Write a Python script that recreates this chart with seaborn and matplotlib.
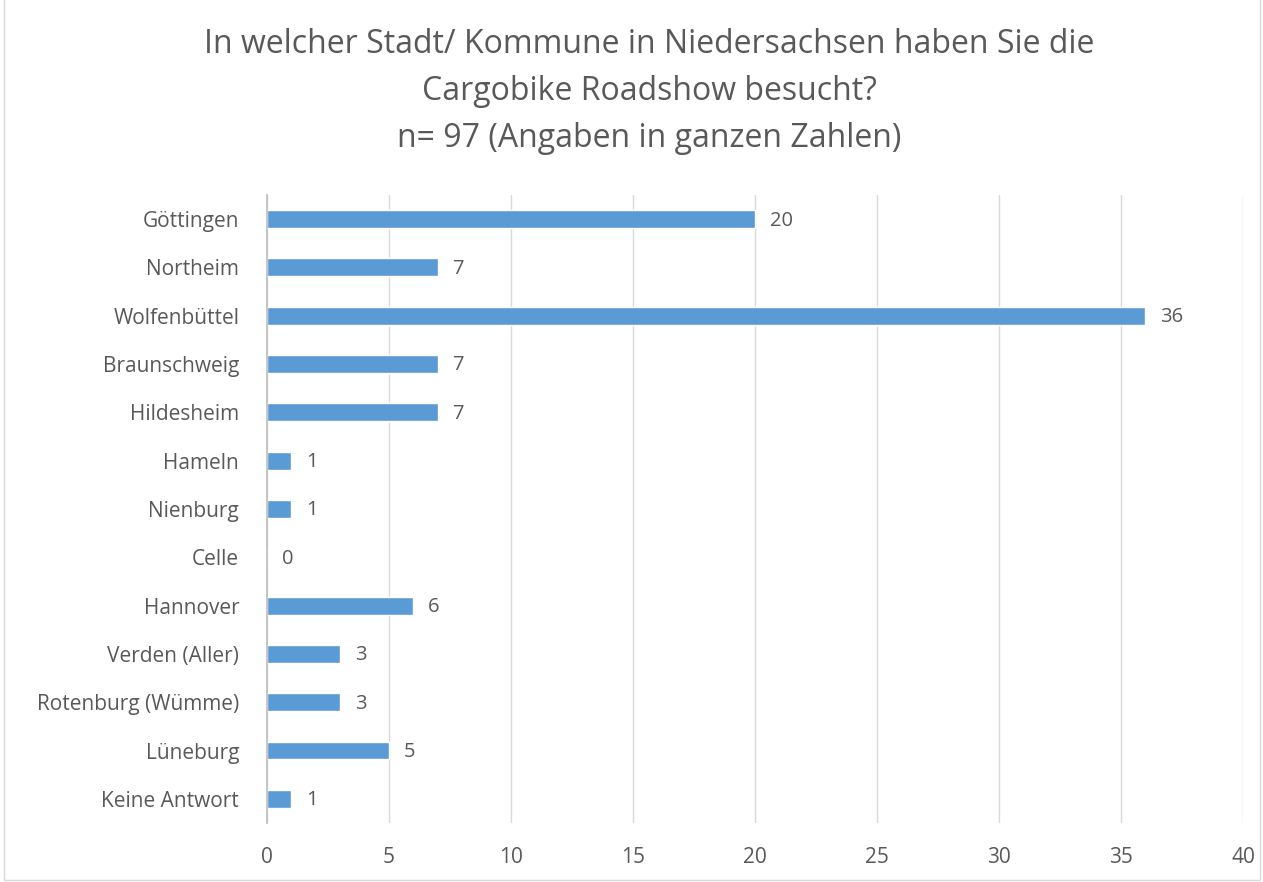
import matplotlib.pyplot as plt
import matplotlib.patches as mpatches
import seaborn as sns
import pandas as pd

staedte = [
    "Göttingen", "Northeim", "Wolfenbüttel", "Braunschweig", "Hildesheim",
    "Hameln", "Nienburg", "Celle", "Hannover", "Verden (Aller)",
    "Rotenburg (Wümme)", "Lüneburg", "Keine Antwort",
]
anzahl = [20, 7, 36, 7, 7, 1, 1, 0, 6, 3, 3, 5, 1]
x_ticks = [0, 5, 10, 15, 20, 25, 30, 35, 40]

titel = ("In welcher Stadt/ Kommune in Niedersachsen haben Sie die\n"
         "Cargobike Roadshow besucht?\n"
         "n= 97 (Angaben in ganzen Zahlen)")

df = pd.DataFrame({"stadt": staedte, "anzahl": anzahl})

sns.set_theme(style="white")
plt.rcParams['font.family'] = ['Open Sans', 'DejaVu Sans']
grau = "#595959"

fig = plt.figure(figsize=(12.63, 8.82), dpi=100)
ax = fig.add_axes([0.2114, 0.0669, 0.7728, 0.7121])

sns.barplot(data=df, x="anzahl", y="stadt", color="#5B9BD5", width=0.37,
            saturation=1, ax=ax)

for i, v in enumerate(anzahl):
    ax.text(v + 0.6, i + 0.03, str(v), va="center", ha="left", fontsize=14.5, color=grau)

ax.set_xlim(0, 40)
ax.set_xticks(x_ticks)
ax.set_xlabel("")
ax.set_ylabel("")
ax.xaxis.grid(True, color="#D9D9D9", linewidth=1)
ax.set_axisbelow(True)
for s in ["top", "right", "bottom"]:
    ax.spines[s].set_visible(False)
ax.spines["left"].set_color("#BFBFBF")
ax.tick_params(axis="both", length=0, labelsize=15, labelcolor=grau)
ax.tick_params(axis="y", pad=20)
ax.tick_params(axis="x", pad=17)

fig.text(0.514, 0.968, titel, ha="center", va="top", fontsize=23,
         color=grau, linespacing=1.55)

fig.patches.append(mpatches.Rectangle((0.003, 0.002), 0.995, 1.2, transform=fig.transFigure,
                                      fill=False, edgecolor="#D9D9D9", linewidth=1))

fig.savefig("out.png", dpi=100)
